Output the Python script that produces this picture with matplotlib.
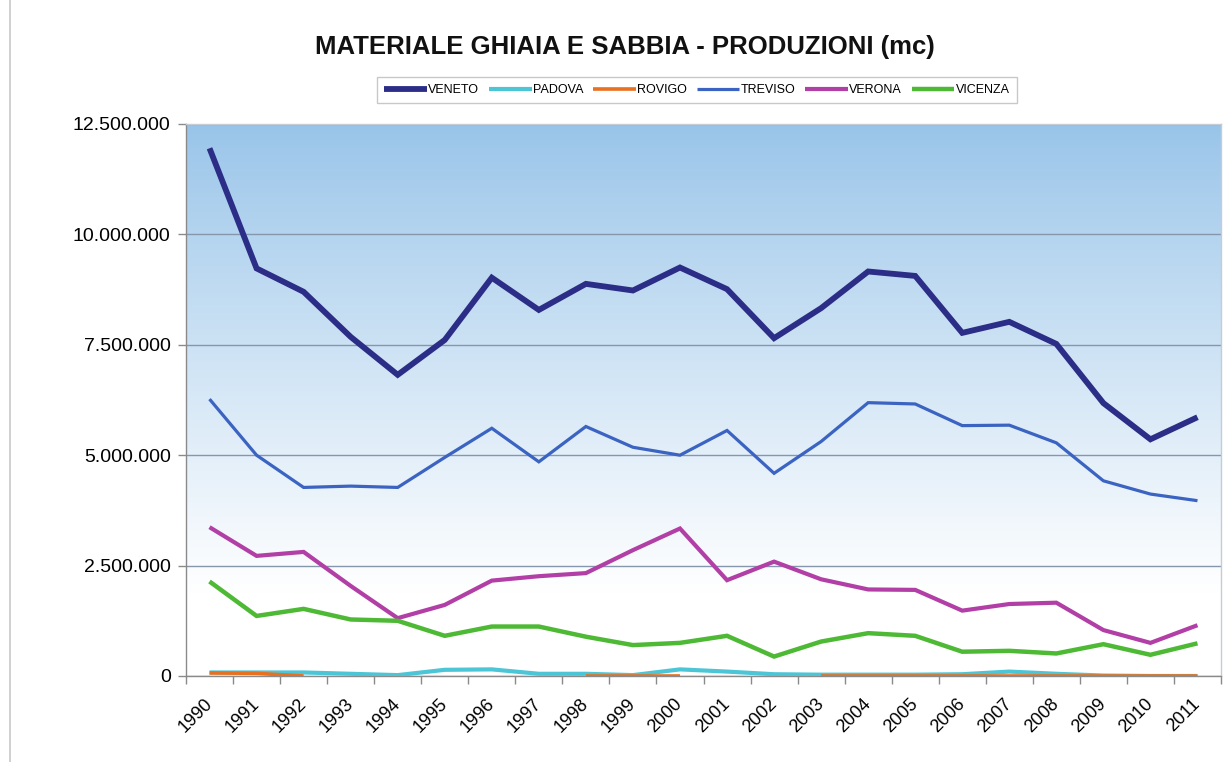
import numpy as np
import matplotlib
matplotlib.use("Agg")
import matplotlib.pyplot as plt
from matplotlib.ticker import FuncFormatter, FixedLocator
from matplotlib.lines import Line2D

plt.rcParams['font.family'] = ['Liberation Sans', 'DejaVu Sans']

years = [str(y) for y in range(1990, 2012)]
nan = np.nan
veneto = [11950000, 9230000, 8700000, 7680000, 6820000, 7610000, 9020000, 8290000, 8880000, 8730000, 9250000,
          8760000, 7650000, 8330000, 9160000, 9060000, 7770000, 8020000, 7520000, 6180000, 5360000, 5860000]
padova = [80000, 80000, 80000, 50000, 20000, 140000, 150000, 50000, 50000, 20000, 150000,
          100000, 40000, 30000, 30000, 30000, 40000, 100000, 50000, 10000, 0, 0]
rovigo = [70000, 60000, 0, nan, nan, nan, nan, nan, 0, 0, 0,
          nan, nan, 0, 0, 0, 0, 0, 0, 0, 0, 0]
treviso = [6270000, 5000000, 4270000, 4300000, 4270000, 4950000, 5610000, 4850000, 5650000, 5180000, 5000000,
           5560000, 4590000, 5310000, 6190000, 6160000, 5670000, 5680000, 5280000, 4420000, 4120000, 3970000]
verona = [3370000, 2720000, 2810000, 2040000, 1310000, 1610000, 2160000, 2260000, 2330000, 2850000, 3340000,
          2170000, 2590000, 2190000, 1960000, 1950000, 1480000, 1630000, 1660000, 1040000, 750000, 1150000]
vicenza = [2140000, 1360000, 1520000, 1280000, 1250000, 910000, 1120000, 1120000, 890000, 700000, 750000,
           910000, 440000, 780000, 970000, 910000, 550000, 570000, 510000, 720000, 480000, 740000]

series = [
    ("VENETO", veneto, "#2B2D86", 4.2),
    ("PADOVA", padova, "#4CC6D6", 3.0),
    ("ROVIGO", rovigo, "#E8701E", 2.6),
    ("TREVISO", treviso, "#3B63C1", 2.3),
    ("VERONA", verona, "#B23FA6", 3.0),
    ("VICENZA", vicenza, "#4DB934", 3.2),
]

W, H = 1228, 762
fig = plt.figure(figsize=(W / 100, H / 100), dpi=100)
fig.patch.set_facecolor("white")

# outer chart frame line on the left
fig.add_artist(Line2D([10 / W, 10 / W], [0, 1], color="#c8c8c8", lw=1.2, transform=fig.transFigure))

ax = fig.add_axes([186 / W, (H - 676) / H, 1035 / W, 552 / H])
x = np.arange(len(years))

# gradient background
n = 256
t = np.linspace(0, 1, n)[:, None]  # 0 top -> 1 bottom
top = np.array([152, 196, 233]) / 255
bot = np.array([255, 255, 255]) / 255
f = np.clip(t / 0.85, 0, 1) ** 0.9
grad = top * (1 - f) + bot * f
img = np.repeat(grad[:, None, :], 2, axis=1).reshape(n, 2, 3)
ax.imshow(img, extent=[0, 1, 0, 1], transform=ax.transAxes, aspect="auto", zorder=0)

ax.set_xlim(-0.5, len(years) - 0.5)
ax.set_ylim(0, 12500000)
ax.set_yticks([0, 2500000, 5000000, 7500000, 10000000, 12500000])
ax.yaxis.set_major_formatter(FuncFormatter(lambda v, p: f"{int(v):,}".replace(",", ".")))
ax.grid(axis="y", color="#8597ad", lw=1.0, zorder=1)
ax.set_axisbelow(True)

for name, vals, col, lw in series:
    ax.plot(x, vals, color=col, lw=lw, label=name, zorder=3, solid_joinstyle="miter",
            solid_capstyle="butt")

ax.set_xticks(x)
ax.set_xticklabels(years, rotation=45, ha="right", va="center", rotation_mode="anchor", fontsize=13)
ax.xaxis.set_minor_locator(FixedLocator(np.arange(-0.5, len(years), 1.0)))
ax.tick_params(axis="x", which="major", length=0, pad=18)
ax.tick_params(axis="x", which="minor", length=6, color="#8a8a8a", width=1)
ax.tick_params(axis="y", length=6, color="#8a8a8a", width=1, labelsize=14, pad=5)

for s in ["top", "right"]:
    ax.spines[s].set_color("#c6ccd4")
    ax.spines[s].set_linewidth(1)
for s in ["left", "bottom"]:
    ax.spines[s].set_color("#8a8a8a")
    ax.spines[s].set_linewidth(1)

fig.text(625 / W, 1 - 47 / H, "MATERIALE GHIAIA E SABBIA - PRODUZIONI (mc)", ha="center", va="center",
         fontsize=18.5, fontweight="bold", color="#111111")

leg = fig.legend(loc="center", bbox_to_anchor=(697 / W, 1 - 90 / H), ncol=6, fontsize=9,
                 frameon=True, fancybox=False, edgecolor="#bbbbbb", handlelength=3.4,
                 handletextpad=0.1, columnspacing=0.8, borderpad=0.55)
leg.get_frame().set_linewidth(1.0)

fig.savefig("out.png", dpi=100)
